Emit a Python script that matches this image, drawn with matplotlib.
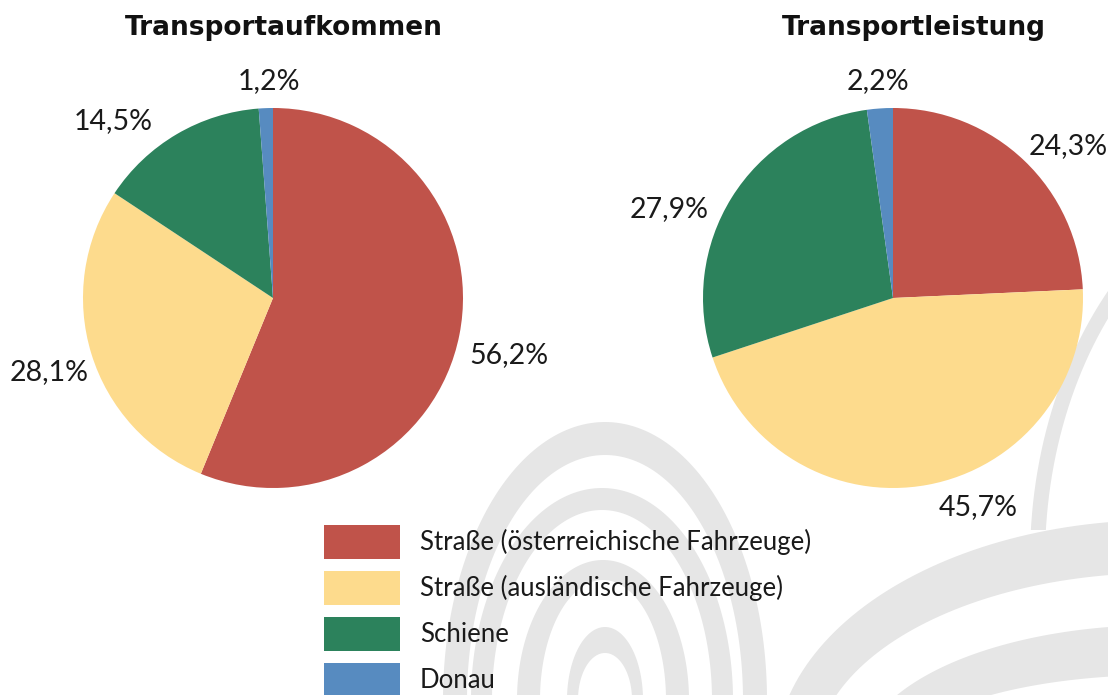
import matplotlib
matplotlib.use('Agg')
import matplotlib.pyplot as plt
from matplotlib.patches import PathPatch, Rectangle
from matplotlib.path import Path
import numpy as np

plt.rcParams['font.family'] = ['Lato', 'DejaVu Sans']

# ---------------- data ----------------
categories = ['Straße (österreichische Fahrzeuge)',
              'Straße (ausländische Fahrzeuge)',
              'Schiene',
              'Donau']
titles = ['Transportaufkommen', 'Transportleistung']
aufkommen = [56.2, 28.1, 14.5, 1.2]
leistung = [24.3, 45.7, 27.9, 2.2]
colors = ['#C0534A', '#FDDB8D', '#2C825C', '#578BC0']

# label positions (pie radius units), layout only
label_pos_left = [(1.24, -0.30), (-1.18, -0.39), (-0.84, 0.93), (-0.02, 1.14)]
label_pos_right = [(0.92, 0.80), (0.45, -1.10), (-1.18, 0.47), (-0.08, 1.14)]

W, H = 1108, 695
fig = plt.figure(figsize=(W / 100, H / 100), dpi=100)

# ---------------- watermark (background) ----------------
bg = fig.add_axes([0, 0, 1, 1], zorder=0)
bg.set_xlim(0, W)
bg.set_ylim(H, 0)
bg.axis('off')
GREY = '#E6E6E6'


def ellipse_pts(cx, cy, hw, hh, n=240):
    t = np.linspace(0, 2 * np.pi, n)
    return np.column_stack([cx + hw * np.cos(t), cy - hh * np.sin(t)])


def ring(cx, cy, ohw, ohh, ihw, ihh, icy=None, clip=None):
    if icy is None:
        icy = cy
    outer = ellipse_pts(cx, cy, ohw, ohh)
    inner = ellipse_pts(cx, icy, ihw, ihh)[::-1]
    p = Path.make_compound_path(Path(outer, closed=True), Path(inner, closed=True))
    patch = PathPatch(p, facecolor=GREY, edgecolor='none')
    bg.add_patch(patch)
    if clip is not None:
        r = Rectangle(clip[:2], clip[2], clip[3], transform=bg.transData)
        patch.set_clip_path(r)


# central set of arches
ring(605, 700, 162, 278, 138, 245)
ring(602, 700, 131, 212, 110, 190)
ring(603, 700, 86, 140, 63, 120)
ring(605, 700, 38, 73, 27, 47)
# right set
ring(1160, 760, 385, 240, 345, 187)
ring(1160, 760, 300, 135, 262, 85)
ring(1330, 560, 300, 400, 285, 385, clip=(900, 250, 300, 280))

# ---------------- pies ----------------
R = 190
pie_specs = [(273, aufkommen, label_pos_left, titles[0], 284),
             (893, leistung, label_pos_right, titles[1], 914)]
wedges_for_legend = None
for cx, vals, lpos, title, tx in pie_specs:
    ax = fig.add_axes([(cx - R) / W, (H - 298 - R) / H, 2 * R / W, 2 * R / H], zorder=2)
    ax.patch.set_visible(False)
    wedges, _ = ax.pie(vals, colors=colors, startangle=90, counterclock=False,
                       radius=1, wedgeprops=dict(linewidth=0))
    ax.set_xlim(-1, 1)
    ax.set_ylim(-1, 1)
    ax.set_aspect('equal')
    for v, (lx, ly) in zip(vals, lpos):
        ax.text(lx, ly, f"{v:.1f}".replace('.', ',') + '%', ha='center', va='center',
                fontsize=20.5, color='#1a1a1a')
    fig.text(tx / W, 1 - 28 / H, title, ha='center', va='center', fontsize=19,
             fontweight='bold', family=['DejaVu Sans'], color='#111111')
    if wedges_for_legend is None:
        wedges_for_legend = wedges

fs = 18.5
px = fs * 100 / 72
hh = (34 / px - 0.245) / 0.65
leg = fig.legend(handles=wedges_for_legend, labels=categories, loc='upper left',
                 bbox_to_anchor=(324 / W, 1 - 525 / H), frameon=False, fontsize=fs,
                 handlelength=76 / px, handleheight=hh, labelspacing=12 / px,
                 handletextpad=20 / px, borderpad=0, borderaxespad=0)
leg.set_zorder(3)
for t in leg.get_texts():
    t.set_color('#1a1a1a')

fig.savefig('out.png', dpi=100)
